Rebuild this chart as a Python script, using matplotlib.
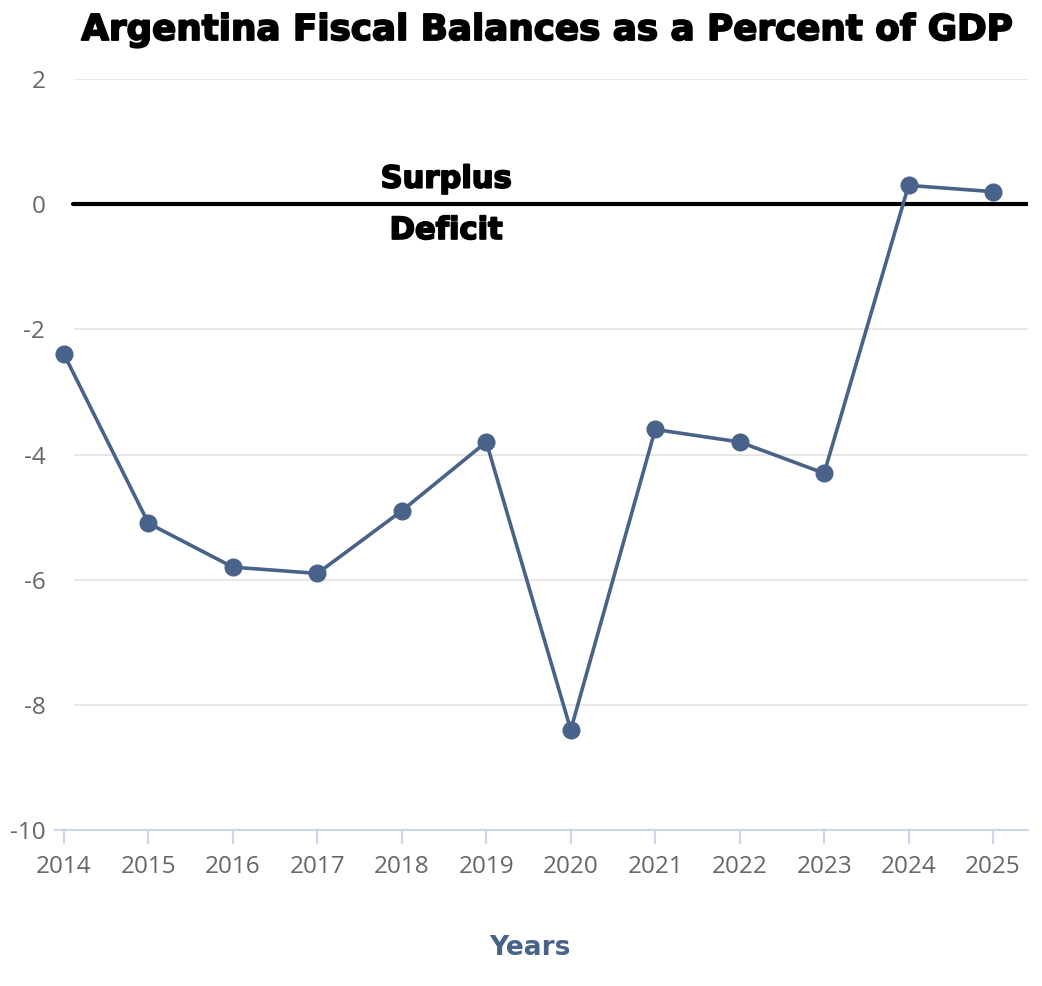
import matplotlib.pyplot as plt
import matplotlib.patheffects as pe
from matplotlib.transforms import blended_transform_factory

years = [2014, 2015, 2016, 2017, 2018, 2019, 2020, 2021, 2022, 2023, 2024, 2025]
balance = [-2.4, -5.1, -5.8, -5.9, -4.9, -3.8, -8.4, -3.6, -3.8, -4.3, 0.3, 0.2]
yticks = [2, 0, -2, -4, -6, -8, -10]

LINE = "#48628a"
GRID = "#e3e3e3"
TICK = "#666666"

fig = plt.figure(figsize=(10.42, 9.86), dpi=100)
ax = fig.add_axes([55 / 1042, 1 - 830 / 986, (1028 - 55) / 1042, (830 - 79) / 986])

ax.set_xlim(2013.893, 2025.414)
ax.set_ylim(-10, 2)

# grid lines start a bit right of the axis origin
x0 = (75 - 55) / (1028 - 55)
for v in yticks:
    if v in (-10, 0):
        continue
    ax.axhline(v, xmin=x0, xmax=1, color=GRID, lw=1.2, zorder=0)
ax.axhline(0, xmin=(73 - 55) / (1028 - 55), xmax=1, color="black", lw=3,
           solid_capstyle="round", zorder=1)

ax.plot(years, balance, color=LINE, lw=2.6, marker="o", markersize=12, zorder=3,
        clip_on=False)

for s in ("top", "right", "left"):
    ax.spines[s].set_visible(False)
ax.spines["bottom"].set_color("#ccd6eb")
ax.spines["bottom"].set_linewidth(1.5)

ax.set_xticks(years)
ax.set_xticklabels([str(y) for y in years])
ax.set_yticks(yticks)
ax.set_yticklabels([str(v) for v in yticks])
ax.tick_params(axis="x", colors="#ccd6eb", length=10, width=1.5, labelcolor=TICK,
               labelsize=17.5, pad=8)
ax.tick_params(axis="y", length=0, labelcolor=TICK, labelsize=17.5, pad=7)
for lab in ax.get_xticklabels() + ax.get_yticklabels():
    lab.set_family(["Open Sans", "DejaVu Sans"])

heavy = [pe.withStroke(linewidth=1.3, foreground="black")]

tr = blended_transform_factory(fig.transFigure, ax.transData)
ax.text(446 / 1042, 0.4, "Surplus", transform=tr, ha="center", va="center",
        fontsize=22, fontweight="bold", family="DejaVu Sans", path_effects=heavy)
ax.text(446 / 1042, -0.42, "Deficit", transform=tr, ha="center", va="center",
        fontsize=22, fontweight="bold", family="DejaVu Sans", path_effects=heavy)

fig.text(546 / 1042, 1 - 30 / 986, "Argentina Fiscal Balances as a Percent of GDP",
         ha="center", va="center", fontsize=25.7, fontweight="bold", family="DejaVu Sans",
         path_effects=heavy)
fig.text(530 / 1042, 1 - 948 / 986, "Years", ha="center", va="center",
         fontsize=19, fontweight="bold", color=LINE, family="DejaVu Sans")

fig.savefig("out.png", dpi=100)
